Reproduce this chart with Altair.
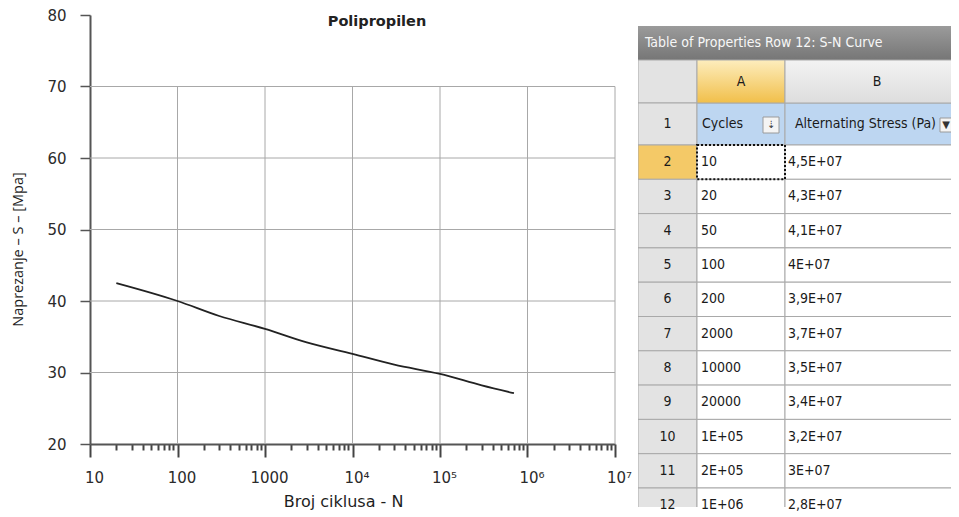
import altair as alt
import pandas as pd

# ---------------- S-N curve ----------------
cycles = [20, 100, 300, 1000, 3000, 10000, 30000, 100000, 300000, 700000]
stress_mpa = [42.5, 40.0, 37.9, 36.1, 34.2, 32.6, 31.1, 29.8, 28.2, 27.1]
chart_title = "Polipropilen"

y_ticks = [20, 30, 40, 50, 60, 70, 80]
grid_stress = [30, 40, 50, 60, 70]
decade_ticks = [10, 100, 1000, 10000, 100000, 1000000, 10000000]
grid_cycles = [100, 1000, 10000, 100000, 1000000, 10000000]
minor_ticks = [m * d for d in decade_ticks[:-1] for m in range(2, 10)]

# ---------------- table of properties ----------------
row_numbers = [str(i) for i in range(1, 13)]
col_letters = ["A", "B"]
col_headers = ["Cycles", "Alternating Stress (Pa)"]
cycles_labels = ["10", "20", "50", "100", "200", "2000", "10000", "20000",
                 "1E+05", "2E+05", "1E+06"]
stress_labels = ["4,5E+07", "4,3E+07", "4,1E+07", "4E+07", "3,9E+07", "3,7E+07",
                 "3,5E+07", "3,4E+07", "3,2E+07", "3E+07", "2,8E+07"]
table_title = "Table of Properties Row 12: S-N Curve"

# ======================= left chart =======================
curve = pd.DataFrame({"N": cycles, "S": stress_mpa})
hgrid = pd.DataFrame({"S": grid_stress, "N0": decade_ticks[0], "N1": decade_ticks[-1]})
vgrid = pd.DataFrame({"N": grid_cycles, "S0": y_ticks[0], "S1": grid_stress[-1]})

xscale = alt.Scale(type="log", domain=[decade_ticks[0], decade_ticks[-1]], nice=False)
yscale = alt.Scale(domain=[y_ticks[0], y_ticks[-1]], nice=False, zero=False)

is_dec = "abs(log(datum.value)/LN10 - round(log(datum.value)/LN10)) < 0.001"
lab_expr = (f"({is_dec}) ? (datum.value < 10000 ? format(datum.value, 'd') : "
            "'10' + ['⁴','⁵','⁶','⁷'][round(log(datum.value)/LN10) - 4]) : ''")

xaxis = alt.Axis(
    values=decade_ticks + minor_ticks, title="Broj ciklusa - N", grid=False,
    labelExpr=lab_expr, labelOverlap=False, labelFlush=False,
    tickSize={"condition": {"test": is_dec, "value": 13}, "value": 6},
    tickWidth=2, tickColor="#444", domainColor="#555", domainWidth=2,
    labelFont="DejaVu Sans", labelFontSize=15, labelColor="#2b2b2b",
    labelPadding=13, labelOffset=4,
    titleFont="DejaVu Sans", titleFontSize=16, titleFontWeight="normal",
    titleColor="#1e1e1e", titlePadding=8, titleX=253,
)
yaxis = alt.Axis(
    values=y_ticks, title="Naprezanje – S – [Mpa]", grid=False,
    tickSize=10, tickWidth=1.5, tickColor="#555", domainColor="#555", domainWidth=2,
    labelFont="DejaVu Sans", labelFontSize=15, labelColor="#2b2b2b", labelPadding=14,
    titleFont="Open Sans", titleFontSize=14.5, titleFontWeight="normal",
    titleColor="#1e1e1e", titlePadding=21, titleY=234,
)

grid_h = alt.Chart(hgrid).mark_rule(color="#a8a8a8", strokeWidth=1).encode(
    x=alt.X("N0:Q", scale=xscale, axis=xaxis), x2="N1:Q",
    y=alt.Y("S:Q", scale=yscale, axis=yaxis),
)
grid_v = alt.Chart(vgrid).mark_rule(color="#a8a8a8", strokeWidth=1).encode(
    x=alt.X("N:Q", scale=xscale, axis=xaxis),
    y=alt.Y("S0:Q", scale=yscale, axis=yaxis), y2="S1:Q",
)
line = alt.Chart(curve).mark_line(color="#222", strokeWidth=1.8,
                                  interpolate="monotone").encode(
    x=alt.X("N:Q", scale=xscale, axis=xaxis),
    y=alt.Y("S:Q", scale=yscale, axis=yaxis),
)
title_mark = alt.Chart(pd.DataFrame({"t": [chart_title]})).mark_text(
    font="DejaVu Sans", fontSize=14.5, fontWeight="bold", color="#222",
    align="center", baseline="middle").encode(
    x=alt.value(287), y=alt.value(7), text="t:N")

left = alt.layer(grid_h, grid_v, line, title_mark).properties(width=525, height=429)

# ======================= table =======================
COL = [0, 59, 147, 340]
ROW = [0, 34, 77, 119] + [119 + 34.3 * j for j in range(1, 12)]
TW, TH = 313, 492
tx = alt.Scale(domain=[0, TW], nice=False, zero=False)
ty = alt.Scale(domain=[-11, TH - 11], nice=False, zero=False, reverse=True)
NARROW = "Liberation Sans Narrow, DejaVu Sans Condensed, Arial Narrow, sans-serif"

cells, texts_c, texts_l = [], [], []
cells.append(dict(x0=COL[0], x1=COL[1], y0=ROW[1], y1=ROW[2], fill="#e3e3e3"))
cells.append(dict(x0=COL[0], x1=COL[1], y0=ROW[2], y1=ROW[3], fill="#e3e3e3"))
cells.append(dict(x0=COL[1], x1=COL[2], y0=ROW[2], y1=ROW[3], fill="#bdd6f1"))
cells.append(dict(x0=COL[2], x1=COL[3], y0=ROW[2], y1=ROW[3], fill="#bdd6f1"))
texts_c.append(dict(x=(COL[0] + COL[1]) / 2, y=(ROW[2] + ROW[3]) / 2, t=row_numbers[0]))
texts_c.append(dict(x=(COL[1] + COL[2]) / 2, y=(ROW[1] + ROW[2]) / 2, t=col_letters[0]))
texts_c.append(dict(x=239, y=(ROW[1] + ROW[2]) / 2, t=col_letters[1]))
texts_l.append(dict(x=COL[1] + 5, y=(ROW[2] + ROW[3]) / 2, t=col_headers[0]))
texts_l.append(dict(x=COL[2] + 10, y=(ROW[2] + ROW[3]) / 2, t=col_headers[1]))
for i, (c, s) in enumerate(zip(cycles_labels, stress_labels)):
    k = 3 + i
    y0, y1 = ROW[k], ROW[k + 1]
    cells.append(dict(x0=COL[0], x1=COL[1], y0=y0, y1=y1,
                      fill="#f4c967" if i == 0 else "#e3e3e3"))
    cells.append(dict(x0=COL[1], x1=COL[2], y0=y0, y1=y1, fill="#ffffff"))
    cells.append(dict(x0=COL[2], x1=COL[3], y0=y0, y1=y1, fill="#ffffff"))
    texts_c.append(dict(x=(COL[0] + COL[1]) / 2, y=(y0 + y1) / 2, t=row_numbers[i + 1]))
    texts_l.append(dict(x=COL[1] + 4, y=(y0 + y1) / 2, t=c))
    texts_l.append(dict(x=COL[2] + 3, y=(y0 + y1) / 2, t=s))

cells_df = pd.DataFrame(cells)
enc_rect = dict(x=alt.X("x0:Q", scale=tx, axis=None), x2="x1:Q",
                y=alt.Y("y0:Q", scale=ty, axis=None), y2="y1:Q")

def grad(c0, c1):
    return alt.LinearGradient(gradient="linear", x1=0, x2=0, y1=0, y2=1,
                              stops=[alt.GradientStop(color=c0, offset=0),
                                     alt.GradientStop(color=c1, offset=1)])

title_bar = alt.Chart(pd.DataFrame([dict(x0=COL[0], x1=COL[3], y0=ROW[0], y1=ROW[1])])).mark_rect(
    fill=grad("#9b9b9b", "#767676"), clip=True).encode(**enc_rect)
head_a = alt.Chart(pd.DataFrame([dict(x0=COL[1], x1=COL[2], y0=ROW[1], y1=ROW[2])])).mark_rect(
    fill=grad("#fdedbd", "#f1bf4a"), stroke="#a9a9a9", strokeWidth=1, clip=True).encode(**enc_rect)
head_b = alt.Chart(pd.DataFrame([dict(x0=COL[2], x1=COL[3], y0=ROW[1], y1=ROW[2])])).mark_rect(
    fill=grad("#f3f3f3", "#dddddd"), stroke="#a9a9a9", strokeWidth=1, clip=True).encode(**enc_rect)
body = alt.Chart(cells_df).mark_rect(stroke="#a9a9a9", strokeWidth=1, clip=True).encode(
    fill=alt.Fill("fill:N", scale=None), **enc_rect)
focus = alt.Chart(pd.DataFrame([dict(x0=COL[1], x1=COL[2], y0=ROW[3], y1=ROW[4])])).mark_rect(
    fillOpacity=0, stroke="#111", strokeWidth=2, strokeDash=[2, 2]).encode(**enc_rect)
icons = alt.Chart(pd.DataFrame([
    dict(x0=125, x1=141, y0=91, y1=107),
    dict(x0=302, x1=316, y0=92, y1=106),
])).mark_rect(fill="#f4f4f4", stroke="#9a9a9a", strokeWidth=1, clip=True).encode(**enc_rect)
icon_txt = alt.Chart(pd.DataFrame([dict(x=133, y=99, t="⇣"), dict(x=308, y=99, t="▼")])).mark_text(
    font="DejaVu Sans", fontSize=10, color="#333", align="center", baseline="middle").encode(
    x=alt.X("x:Q", scale=tx, axis=None), y=alt.Y("y:Q", scale=ty, axis=None), text="t:N")

title_txt = alt.Chart(pd.DataFrame([dict(x=7, y=(ROW[0] + ROW[1]) / 2, t=table_title)])).mark_text(
    font=NARROW, fontSize=14, color="#f7f7f7", align="left", baseline="middle").encode(
    x=alt.X("x:Q", scale=tx, axis=None), y=alt.Y("y:Q", scale=ty, axis=None), text="t:N")
txt_c = alt.Chart(pd.DataFrame(texts_c)).mark_text(
    font=NARROW, fontSize=14, color="#1a1a1a", align="center", baseline="middle").encode(
    x=alt.X("x:Q", scale=tx, axis=None), y=alt.Y("y:Q", scale=ty, axis=None), text="t:N")
txt_l = alt.Chart(pd.DataFrame(texts_l)).mark_text(
    font=NARROW, fontSize=14, color="#1a1a1a", align="left", baseline="middle").encode(
    x=alt.X("x:Q", scale=tx, axis=None), y=alt.Y("y:Q", scale=ty, axis=None), text="t:N")

table = alt.layer(title_bar, body, head_a, head_b, focus, icons, icon_txt,
                  title_txt, txt_c, txt_l).properties(width=TW, height=TH)

chart = alt.hconcat(left, table, spacing=6).properties(
    padding={"left": 2, "top": 0, "right": 0, "bottom": 0}
).configure_view(stroke=None)

chart.save("out.html", embed_options={"renderer": "svg", "actions": False})
